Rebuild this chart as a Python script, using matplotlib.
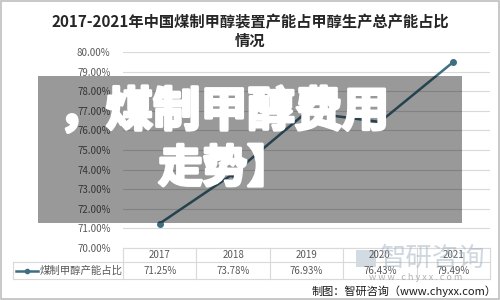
import matplotlib
matplotlib.use("Agg")
import matplotlib.pyplot as plt
import matplotlib.patheffects as pe
from matplotlib.patches import Rectangle
from matplotlib.lines import Line2D

plt.rcParams['font.family'] = ['Noto Sans CJK SC', 'DejaVu Sans']

# ---------------- data ----------------
years = ["2017", "2018", "2019", "2020", "2021"]
share = [71.25, 73.78, 76.93, 76.43, 79.49]
share_labels = ["71.25%", "73.78%", "76.93%", "76.43%", "79.49%"]
yticks = [70, 71, 72, 73, 74, 75, 76, 77, 78, 79, 80]
series_name = "煤制甲醇产能占比"
title = "2017-2021年中国煤制甲醇装置产能占甲醇生产总产能占比\n情况"
overlay_line1 = "，煤制甲醇费用"
overlay_line2 = "走势】"

W, H = 500, 300
fx = lambda px: px / W
fy = lambda py: 1 - py / H

fig = plt.figure(figsize=(5, 3), dpi=100)
fig.patch.set_facecolor("white")

# plot area
ax = fig.add_axes([fx(123), fy(248), fx(490) - fx(123), fy(52) - fy(248)])
x = list(range(len(years)))
ax.plot(x, share, color="#3f6e82", lw=1.8, marker="o", ms=4, zorder=3)
ax.set_xlim(-0.5, len(years) - 0.5)
ax.set_ylim(70, 80)
ax.set_yticks(yticks)
ax.set_yticklabels([f"{v:.2f}%" for v in yticks], color="#595959", fontsize=7)
ax.set_xticks([])
ax.tick_params(axis="y", length=0, pad=9)
ax.grid(axis="y", color="#d9d9d9", lw=0.8)
ax.set_axisbelow(True)
for s in ax.spines.values():
    s.set_visible(False)

# title
fig.text(0.5, fy(31), title, ha="center", va="center", fontsize=11,
         fontweight="bold", color="#262626", linespacing=1.2)

# data table under the chart
tcol = "#d9d9d9"
col_w = (490 - 123) / len(years)
lines = [
    ((123, 490), (248, 248)),
    ((13, 490), (262, 262)),
    ((13, 490), (279, 279)),
    ((13, 13), (262, 279)),
]
for i in range(len(years) + 1):
    xx = 123 + i * col_w
    lines.append(((xx, xx), (248, 279)))
for (xs, ys) in lines:
    fig.add_artist(Line2D([fx(v) for v in xs], [fy(v) for v in ys],
                          color=tcol, lw=0.8))
for i, (yr, lab) in enumerate(zip(years, share_labels)):
    cx = fx(123 + (i + 0.5) * col_w)
    fig.text(cx, fy(255), yr, ha="center", va="center", fontsize=7, color="#595959")
    fig.text(cx, fy(271), lab, ha="center", va="center", fontsize=7, color="#595959")
fig.add_artist(Line2D([fx(16), fx(38)], [fy(271), fy(271)], color="#3f6e82", lw=1.8))
fig.add_artist(Line2D([fx(27)], [fy(271)], color="#3f6e82", marker="o", ms=3))
fig.text(fx(40), fy(271), series_name, ha="left", va="center", fontsize=7.5,
         color="#595959")

# watermark
fig.text(fx(380), fy(258), "智研咨询", ha="left", va="center", fontsize=19,
         color="#9fb0c0", alpha=0.5)
fig.add_artist(Rectangle((fx(356), fy(267)), fx(20), 17 / H, transform=fig.transFigure,
                         facecolor="#9fb0c0", alpha=0.45, edgecolor="none"))
fig.text(fx(416), fy(277), "w w w . c h y x x . c o m", ha="center", va="center",
         fontsize=6.5, color="#a0a0a0", alpha=0.8)

# footer
fig.text(fx(497), fy(291), "制图：智研咨询（www.chyxx.com）", ha="right",
         va="center", fontsize=8, color="#1a1a1a")

# dark overlay with banner text
fig.add_artist(Rectangle((fx(38), fy(223)), fx(462) - fx(38), 147 / H,
                         transform=fig.transFigure, facecolor="black",
                         alpha=0.4, edgecolor="none", zorder=5))
heavy = [pe.withStroke(linewidth=2.2, foreground="white")]
fig.text(fx(224), fy(112), overlay_line1, ha="center", va="center", fontsize=34,
         fontweight="bold", color="white", zorder=6, path_effects=heavy)
fig.text(fx(225), fy(169), overlay_line2, ha="center", va="center", fontsize=32,
         fontweight="bold", color="white", zorder=6, path_effects=heavy)

# thin outer frame
fig.add_artist(Rectangle((0.002, 0.003), 0.996, 0.994, transform=fig.transFigure,
                         facecolor="none", edgecolor="#bfbfbf", lw=1.2))

fig.savefig("out.png", dpi=100)
